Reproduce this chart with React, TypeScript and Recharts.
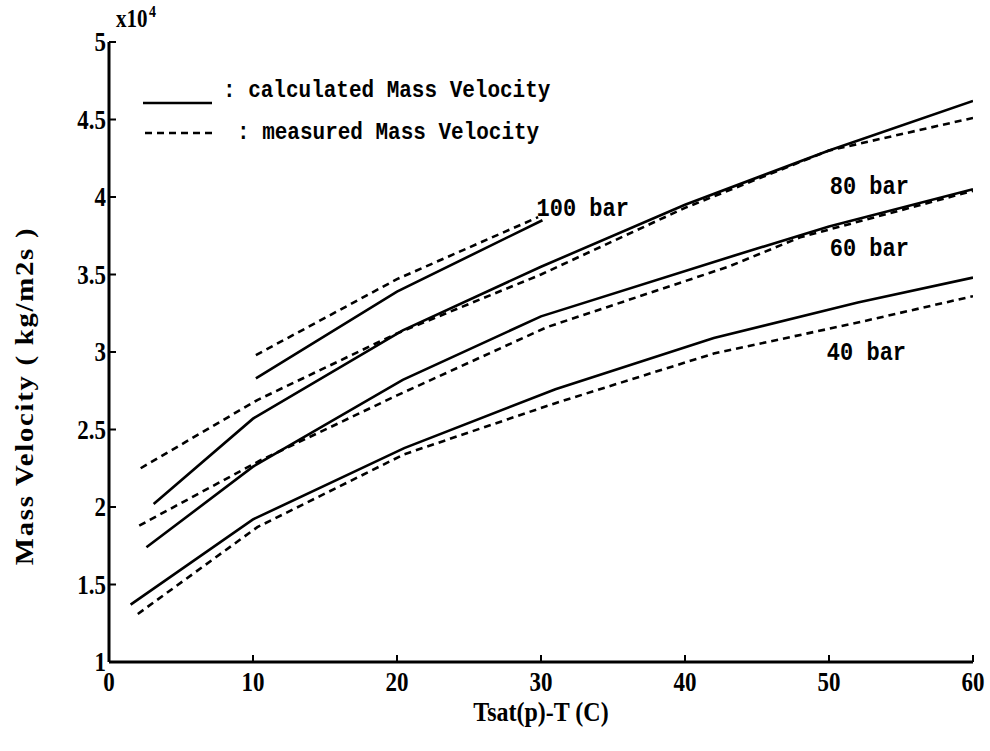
import React from 'react';
import {
  LineChart,
  Line,
  XAxis,
  YAxis,
  ReferenceDot
} from 'recharts';

// x: Tsat(p)-T (C), y: mass velocity in units of 1e4 kg/m2s
const calc40 = [[1.5, 1.37], [10, 1.92], [20.5, 2.38], [31, 2.76], [42, 3.09], [52, 3.32], [60, 3.48]];
const meas40 = [[2, 1.31], [10.3, 1.87], [20.5, 2.34], [31, 2.67], [42, 2.99], [52, 3.19], [60, 3.36]];
const calc60 = [[2.6, 1.74], [10, 2.26], [20.4, 2.82], [30, 3.23], [43, 3.61], [50, 3.81], [60, 4.05]];
const meas60 = [[2.1, 1.88], [10.5, 2.3], [20, 2.72], [30.4, 3.16], [43, 3.55], [48, 3.74], [60, 4.04]];
const calc80 = [[3.1, 2.02], [10, 2.57], [20.4, 3.14], [30, 3.55], [40, 3.95], [50, 4.3], [60, 4.62]];
const meas80 = [[2.2, 2.25], [10.3, 2.69], [20, 3.12], [30, 3.5], [40, 3.93], [50, 4.3], [60, 4.51]];
const calc100 = [[10.2, 2.83], [20, 3.39], [30.1, 3.85]];
const meas100 = [[10.2, 2.98], [20, 3.47], [29.8, 3.87]];

const X_TICKS = [0, 10, 20, 30, 40, 50, 60];
const Y_TICKS = [1, 1.5, 2, 2.5, 3, 3.5, 4, 4.5, 5];

const curveLabels = [
  { text: '100 bar', x: 32.9, y: 3.92 },
  { text: '80 bar', x: 52.8, y: 4.065 },
  { text: '60 bar', x: 52.8, y: 3.665 },
  { text: '40 bar', x: 52.6, y: 2.99 }
];

const toPoints = (arr: number[][]) => arr.map(([x, y]) => ({ x, y }));

const SERIES = [
  { key: 'c40', data: calc40, dashed: false },
  { key: 'm40', data: meas40, dashed: true },
  { key: 'c60', data: calc60, dashed: false },
  { key: 'm60', data: meas60, dashed: true },
  { key: 'c80', data: calc80, dashed: false },
  { key: 'm80', data: meas80, dashed: true },
  { key: 'c100', data: calc100, dashed: false },
  { key: 'm100', data: meas100, dashed: true }
];

const SERIF = '"Liberation Serif", "DejaVu Serif", serif';
const MONO = '"Liberation Mono", "DejaVu Sans Mono", monospace';
const INK = '#000';
const STRETCH = 1.15; // the scanned figure is a bit taller than wide

// text drawn a little taller than wide, like the scan
const StretchText = ({ x, y, children, anchor = 'middle', size = 22, family = SERIF, rotate = false, spacing = 0 }: any) => (
  <text
    transform={`translate(${x},${y}) scale(1,${STRETCH})${rotate ? ' rotate(-90)' : ''}`}
    textAnchor={anchor}
    dominantBaseline="central"
    fontFamily={family}
    fontWeight={700}
    fontSize={size}
    letterSpacing={spacing}
    fill={INK}
  >
    {children}
  </text>
);

const XTick = ({ x, y, payload }: any) => (
  <StretchText x={x} y={y} size={23}>{payload.value}</StretchText>
);

const YTick = ({ x, y, payload }: any) => (
  <StretchText x={x} y={y} size={23} anchor="end">{payload.value}</StretchText>
);

// legend drawn inside the plot, top left
const LegendBox = () => (
  <svg width={460} height={90} style={{ position: 'absolute', left: 143, top: 70 }}>
    <line x1={0} y1={33} x2={69} y2={33} stroke={INK} strokeWidth={2.6} />
    <StretchText x={80} y={21} anchor="start" family={MONO} size={21}>: calculated Mass Velocity</StretchText>
    <line x1={2} y1={63} x2={69} y2={63} stroke={INK} strokeWidth={2.6} strokeDasharray="7 5" />
    <StretchText x={94} y={63} anchor="start" family={MONO} size={21}>: measured Mass Velocity</StretchText>
  </svg>
);

export default function App() {
  return (
    <div style={{ position: 'absolute', left: 0, top: 0, width: 990, height: 751, background: '#fff' }}>
      <svg width={80} height={40} style={{ position: 'absolute', left: 110, top: 0 }}>
        <StretchText x={6} y={19} anchor="start" size={21}>x10</StretchText>
        <StretchText x={39} y={12} anchor="start" size={14}>4</StretchText>
      </svg>
      <LineChart width={990} height={751} margin={{ top: 42, right: 17, bottom: 29, left: 13 }}>
        <XAxis
          dataKey="x"
          type="number"
          domain={[0, 60]}
          ticks={X_TICKS}
          allowDataOverflow
          height={60}
          axisLine={{ stroke: INK, strokeWidth: 3 }}
          tickLine={{ stroke: INK, strokeWidth: 2 }}
          tickSize={-7}
          tickMargin={27}
          tick={<XTick />}
          label={{
            position: 'insideBottom',
            content: (p: any) => {
              const vb = p.viewBox;
              return <StretchText x={vb.x + vb.width / 2} y={vb.y + 50} size={24}>Tsat(p)-T (C)</StretchText>;
            }
          }}
        />
        <XAxis
          xAxisId="top"
          orientation="top"
          dataKey="x"
          type="number"
          domain={[0, 60]}
          ticks={X_TICKS}
          height={0}
          axisLine={{ stroke: INK, strokeWidth: 3 }}
          tickLine={{ stroke: INK, strokeWidth: 2 }}
          tickSize={-7}
          tick={false}
        />
        <YAxis
          type="number"
          domain={[1, 5]}
          ticks={Y_TICKS}
          allowDataOverflow
          width={96}
          axisLine={{ stroke: INK, strokeWidth: 3 }}
          tickLine={{ stroke: INK, strokeWidth: 2 }}
          tickSize={-7}
          tickMargin={10}
          tick={<YTick />}
          label={{
            position: 'insideLeft',
            content: (p: any) => {
              const vb = p.viewBox;
              return (
                <StretchText x={vb.x + 12} y={vb.y + vb.height / 2 + 44} size={25} spacing={1.5} rotate>
                  Mass Velocity ( kg/m2s )
                </StretchText>
              );
            }
          }}
        />
        <YAxis
          yAxisId="right"
          orientation="right"
          type="number"
          domain={[1, 5]}
          ticks={Y_TICKS}
          width={0}
          axisLine={{ stroke: INK, strokeWidth: 3 }}
          tickLine={{ stroke: INK, strokeWidth: 2 }}
          tickSize={-7}
          tick={false}
        />
        {SERIES.map((s) => (
          <Line
            key={s.key}
            data={toPoints(s.data)}
            dataKey="y"
            type="linear"
            stroke={INK}
            strokeWidth={2.6}
            strokeDasharray={s.dashed ? '7 5' : undefined}
            dot={false}
            activeDot={false}
            legendType="none"
            isAnimationActive={false}
          />
        ))}
        {curveLabels.map((l) => (
          <ReferenceDot
            key={l.text}
            x={l.x}
            y={l.y}
            r={0}
            fill="none"
            stroke="none"
            label={{
              content: (p: any) => {
                const vb = p.viewBox;
                return (
                  <StretchText x={vb.x + (vb.width || 0) / 2} y={vb.y + (vb.height || 0) / 2} family={MONO}>
                    {l.text}
                  </StretchText>
                );
              }
            }}
          />
        ))}
      </LineChart>
      <LegendBox />
    </div>
  );
}
